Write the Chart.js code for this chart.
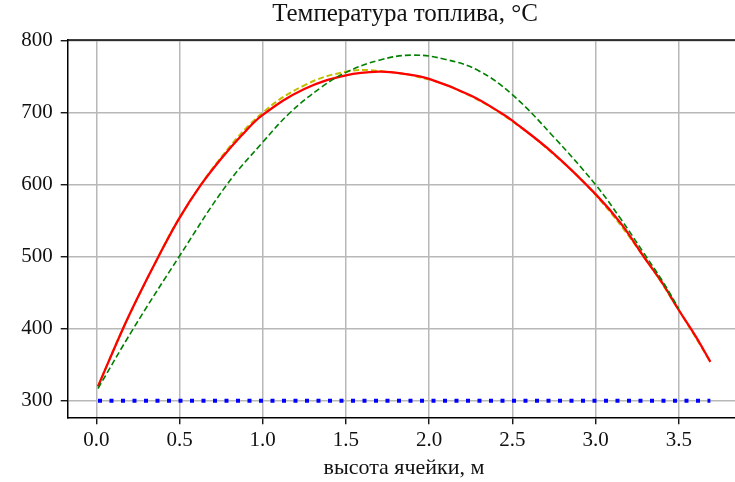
<!DOCTYPE html>
<html>
<head>
<meta charset="UTF-8">
<title>Температура топлива</title>
<script src="https://cdn.jsdelivr.net/npm/chart.js@4.4.1/dist/chart.umd.min.js"></script>
<style>
  body { margin: 0; background: #fff; }
  canvas { display: block; }
</style>
</head>
<body>
<canvas id="chart" width="735" height="482"></canvas>
<script>
// values
var redX = [0.01, 0.16, 0.25, 0.373, 0.5, 0.623, 0.75, 0.875, 1.0, 1.25, 1.5, 1.7, 1.85, 2.0, 2.25, 2.43, 2.5, 2.75, 3.0, 3.15, 3.29, 3.4, 3.5, 3.6, 3.69];
var redY = [320, 400, 444, 500, 554, 598, 636, 669, 697, 733, 752, 757, 754, 747, 724, 700, 689, 643, 587, 547, 500, 464, 426, 390, 354];

var yellowX = [0.01, 0.16, 0.373, 0.5, 0.75, 1.0, 1.25, 1.5, 1.7, 2.0, 2.25, 2.5, 2.75, 3.0, 3.29, 3.5, 3.69];
var yellowY = [320, 400, 500, 554, 638, 700, 738, 757, 758, 746, 723, 688, 642, 586, 500, 426, 354];

var greenX = [0.01, 0.222, 0.5, 0.784, 1.0, 1.164, 1.35, 1.5, 1.7, 1.9, 2.1, 2.3, 2.5, 2.75, 3.0, 3.15, 3.29, 3.4, 3.5];
var greenY = [317, 400, 501, 600, 659, 700, 735, 756, 773, 780, 774, 758, 725, 666, 600, 553, 505, 467, 428];

var blueX = [0.01, 3.69];
var blueY = [300, 300];

var xTicks = [0, 0.5, 1.0, 1.5, 2.0, 2.5, 3.0, 3.5];
var yTicks = [300, 400, 500, 600, 700, 800];

var chartTitle = 'Температура топлива, °C';
var xTitle = 'высота ячейки, м';

function pts(xs, ys) {
  var out = [];
  for (var i = 0; i < xs.length; i++) out.push({ x: xs[i], y: ys[i] });
  return out;
}

var serif = "'Liberation Serif', 'DejaVu Serif', serif";

var decor = {
  id: 'decor',
  afterDraw: function(chart) {
    var ctx = chart.ctx;
    var a = chart.chartArea;
    ctx.save();
    // top spine
    ctx.strokeStyle = '#000';
    ctx.lineWidth = 1.5;
    ctx.beginPath();
    ctx.moveTo(a.left, a.top);
    ctx.lineTo(a.right + 10, a.top);
    ctx.stroke();
    // titles, centred on the (cropped) axes
    ctx.fillStyle = '#111';
    ctx.textAlign = 'center';
    ctx.textBaseline = 'alphabetic';
    ctx.font = '25px ' + serif;
    ctx.fillText(chartTitle, 405, 21);
    ctx.font = '22px ' + serif;
    ctx.fillText(xTitle, 404, 474);
    ctx.restore();
  }
};

new Chart(document.getElementById('chart').getContext('2d'), {
  type: 'line',
  data: {
    datasets: [
      { data: pts(greenX, greenY), borderColor: '#008000', borderWidth: 1.6, borderDash: [6, 3],
        pointRadius: 0, fill: false, tension: 0.4 },
      { data: pts(redX, redY), borderColor: '#ff0000', borderWidth: 2.3,
        pointRadius: 0, fill: false, tension: 0.4 },
      { data: pts(yellowX, yellowY), borderColor: '#bfbf00', borderWidth: 2, borderDash: [6, 3],
        pointRadius: 0, fill: false, tension: 0.4 },
      { data: pts(blueX, blueY), borderColor: '#0000ff', borderWidth: 4, borderDash: [4, 7.5],
        pointRadius: 0, fill: false }
    ]
  },
  options: {
    responsive: false,
    animation: false,
    layout: { padding: { top: 40, left: 0, right: 0, bottom: 0 } },
    plugins: {
      legend: { display: false },
      title: { display: false },
      tooltip: { enabled: false }
    },
    scales: {
      x: {
        type: 'linear',
        min: -0.172,
        max: 3.838,
        afterBuildTicks: function(s) { s.ticks = xTicks.map(function(v) { return { value: v }; }); },
        afterFit: function(s) { s.height = 64.7; },
        ticks: {
          font: { family: serif, size: 21 },
          color: '#111',
          padding: 4,
          maxRotation: 0,
          callback: function(v) { return v.toFixed(1); }
        },
        grid: { color: '#b8b8b8', lineWidth: 1.5, tickColor: '#000', tickLength: 7, tickWidth: 1.3 },
        border: { display: true, color: '#000', width: 1.5 }
      },
      y: {
        min: 277,
        max: 801,
        afterBuildTicks: function(s) { s.ticks = yTicks.map(function(v) { return { value: v }; }); },
        afterFit: function(s) { s.width = 67.7; },
        ticks: {
          font: { family: serif, size: 21 },
          color: '#111',
          padding: 8
        },
        grid: { color: '#b8b8b8', lineWidth: 1.5, tickColor: '#000', tickLength: 7, tickWidth: 1.3 },
        border: { display: true, color: '#000', width: 1.5 }
      }
    }
  },
  plugins: [decor]
});
</script>
</body>
</html>
